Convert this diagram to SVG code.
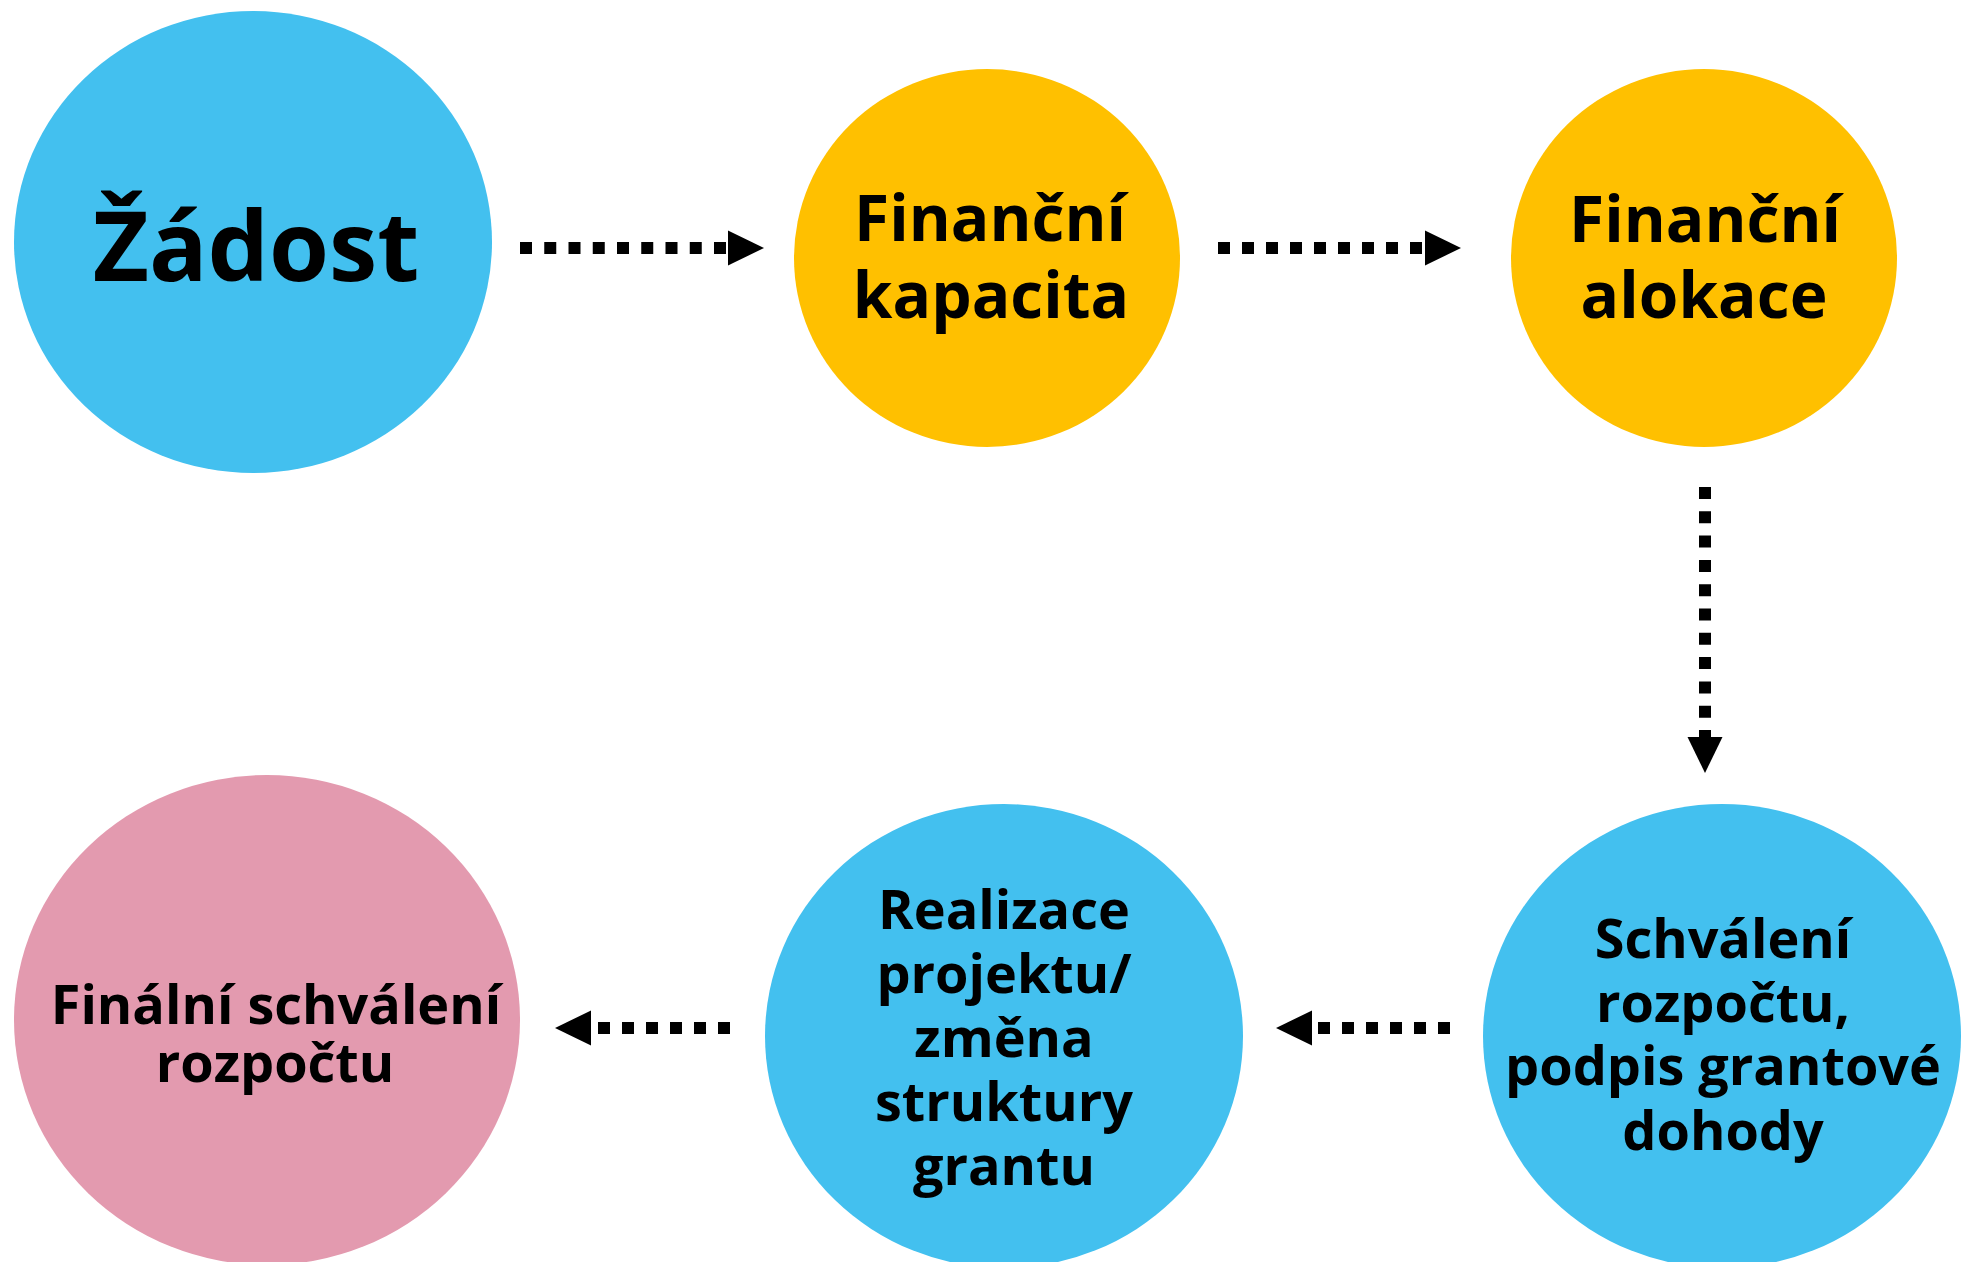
<svg xmlns="http://www.w3.org/2000/svg" width="1962" height="1262" viewBox="0 0 1962 1262">
<style>
.blue{fill:#43C0EF}
.yellow{fill:#FFC000}
.pink{fill:#E39AAF}
text{font-family:"Open Sans","Noto Sans","DejaVu Sans",sans-serif;font-weight:700;fill:#000;text-anchor:middle}
.t54{font-size:54px}
.t64{font-size:64px}
.t97{font-size:97px}
.conn{fill:none;stroke:#000;stroke-width:12}
</style>
<defs>
<marker id="ah" markerUnits="userSpaceOnUse" markerWidth="36" markerHeight="36" refX="0" refY="17.5" orient="auto" viewBox="0 0 36 35">
<path d="M0,0 L36,17.5 L0,35 Z" fill="#000"/>
</marker>
</defs>
<rect width="1962" height="1262" fill="#fff"/>
<g id="connectors">
<path class="conn" d="M520,248 L728,248" stroke-dasharray="12 12.25" marker-end="url(#ah)"/>
<path class="conn" d="M1218,248 L1425,248" stroke-dasharray="12 12" marker-end="url(#ah)"/>
<path class="conn" d="M1705,487 L1705,737" stroke-dasharray="12 12.3" marker-end="url(#ah)"/>
<path class="conn" d="M1450,1028 L1312,1028" stroke-dasharray="12 12" marker-end="url(#ah)"/>
<path class="conn" d="M730,1028 L591,1028" stroke-dasharray="12 12" marker-end="url(#ah)"/>
</g>
<g id="node-zadost">
<ellipse class="blue" cx="253" cy="242" rx="239" ry="231"/>
<text class="t97" x="256" y="281">Žádost</text>
</g>
<g id="node-kapacita">
<ellipse class="yellow" cx="987" cy="258" rx="193" ry="189"/>
<text class="t64" x="990" y="241">Finanční</text>
<text class="t64" x="991" y="318">kapacita</text>
</g>
<g id="node-alokace">
<ellipse class="yellow" cx="1704" cy="258" rx="193" ry="189"/>
<text class="t64" x="1705" y="242">Finanční</text>
<text class="t64" x="1704" y="318">alokace</text>
</g>
<g id="node-schvaleni">
<ellipse class="blue" cx="1722" cy="1036" rx="239" ry="232"/>
<text class="t54" x="1723" y="958">Schválení</text>
<text class="t54" x="1723" y="1022">rozpočtu,</text>
<text class="t54" x="1723" y="1085">podpis grantové</text>
<text class="t54" x="1723" y="1150">dohody</text>
</g>
<g id="node-realizace">
<ellipse class="blue" cx="1004" cy="1036" rx="239" ry="232"/>
<text class="t54" x="1004" y="929">Realizace</text>
<text class="t54" x="1004" y="993">projektu/</text>
<text class="t54" x="1004" y="1057">změna</text>
<text class="t54" x="1004" y="1121">struktury</text>
<text class="t54" x="1004" y="1185">grantu</text>
</g>
<g id="node-finalni">
<ellipse class="pink" cx="267" cy="1020" rx="253" ry="245"/>
<text class="t54" x="276" y="1024">Finální schválení</text>
<text class="t54" x="275" y="1082">rozpočtu</text>
</g>
</svg>
